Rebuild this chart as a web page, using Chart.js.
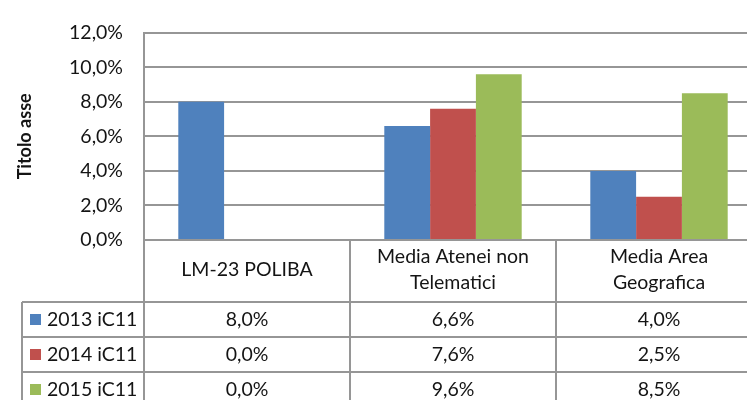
<!DOCTYPE html>
<html>
<head>
<meta charset="utf-8">
<script src="https://cdn.jsdelivr.net/npm/chart.js@4.4.1/dist/chart.umd.min.js"></script>
<style>
    html, body { margin: 0; padding: 0; background: #fff; overflow: hidden; }
    #wrap { width: 770px; height: 400px; }
</style>
</head>
<body>
<div id="wrap"><canvas id="chart" width="770" height="400"></canvas></div>
<script>
// Categories (each entry is the list of lines shown in the table header)
const categories = [
    ['LM-23 POLIBA'],
    ['Media Atenei non', 'Telematici'],
    ['Media Area', 'Geografica']
];
const seriesNames = ['2013 iC11', '2014 iC11', '2015 iC11'];
const values2013 = [8.0, 6.6, 4.0];
const values2014 = [0.0, 7.6, 2.5];
const values2015 = [0.0, 9.6, 8.5];
const yMax = 12;
const yStep = 2;

const colors = ['#4F81BD', '#C0504D', '#9BBB59'];
const lineColor = '#969696';
const textColor = '#141414';
const fontFamily = 'Lato, "Open Sans", sans-serif';
const fontSize = 19.5;

const HEADER_H = 62;
const ROW_H = 35;
const LEGEND_LEFT = 22;

function fmtPct(v) {
    return v.toFixed(1).replace('.', ',') + '%';
}

// Draws the data table under the plot: header with category names,
// then one row per series with legend key and values
const dataTable = {
    id: 'dataTable',
    afterDraw(chart) {
        const { ctx, chartArea, scales: { x } } = chart;
        const n = categories.length;
        const colW = (x.right - x.left) / n;
        const top = chartArea.bottom;
        const headBottom = top + HEADER_H;
        const sets = chart.data.datasets;
        const tableBottom = headBottom + sets.length * ROW_H;

        ctx.save();
        ctx.strokeStyle = lineColor;
        ctx.lineWidth = 2;
        ctx.beginPath();
        for (let r = 0; r <= sets.length; r++) {
            const y = headBottom + r * ROW_H;
            ctx.moveTo(LEGEND_LEFT, y);
            ctx.lineTo(x.right, y);
        }
        for (let i = 0; i <= n; i++) {
            const xi = x.left + i * colW;
            ctx.moveTo(xi, top);
            ctx.lineTo(xi, tableBottom);
        }
        ctx.moveTo(LEGEND_LEFT, headBottom);
        ctx.lineTo(LEGEND_LEFT, tableBottom);
        ctx.stroke();

        ctx.fillStyle = textColor;
        ctx.font = fontSize + 'px ' + fontFamily;
        ctx.textAlign = 'center';
        ctx.textBaseline = 'middle';

        // header
        const lineH = 26;
        categories.forEach((lines, i) => {
            const cx = x.getPixelForValue(i);
            const cy = top + HEADER_H / 2 - 1;
            const start = cy - (lines.length - 1) * lineH / 2;
            lines.forEach((txt, k) => ctx.fillText(txt, cx, start + k * lineH));
        });

        // rows
        sets.forEach((ds, r) => {
            const cy = headBottom + r * ROW_H + ROW_H / 2;
            ctx.fillStyle = ds.backgroundColor;
            ctx.fillRect(30, cy - 5.5, 11, 11);
            ctx.fillStyle = textColor;
            ctx.textAlign = 'left';
            ctx.fillText(ds.label, 47, cy);
            ctx.textAlign = 'center';
            ds.data.forEach((v, i) => {
                ctx.fillText(fmtPct(v), x.getPixelForValue(i), cy);
            });
        });
        ctx.restore();
    }
};

const ctx = document.getElementById('chart').getContext('2d');

new Chart(ctx, {
    type: 'bar',
    data: {
        labels: categories,
        datasets: [
            { label: seriesNames[0], data: values2013, backgroundColor: colors[0] },
            { label: seriesNames[1], data: values2014, backgroundColor: colors[1] },
            { label: seriesNames[2], data: values2015, backgroundColor: colors[2] }
        ]
    },
    options: {
        responsive: false,
        animation: false,
        devicePixelRatio: 1,
        layout: { padding: { top: 24, right: 8, bottom: 160, left: 0 } },
        datasets: {
            bar: { categoryPercentage: 0.667, barPercentage: 1, borderWidth: 0 }
        },
        plugins: {
            legend: { display: false },
            tooltip: { enabled: false }
        },
        scales: {
            x: { display: false },
            y: {
                min: 0,
                max: yMax,
                ticks: {
                    stepSize: yStep,
                    padding: 21,
                    color: textColor,
                    font: { family: fontFamily, size: fontSize },
                    callback: v => fmtPct(v)
                },
                grid: { color: lineColor, lineWidth: 2, drawTicks: false },
                border: { display: true, color: lineColor, width: 2 },
                title: {
                    display: true,
                    text: 'Titolo asse',
                    color: textColor,
                    font: { family: fontFamily, size: 18, weight: 'bold' },
                    padding: { top: 14, bottom: 0 }
                },
                afterFit(scale) { scale.width = 144; }
            }
        }
    },
    plugins: [dataTable]
});
</script>
</body>
</html>
